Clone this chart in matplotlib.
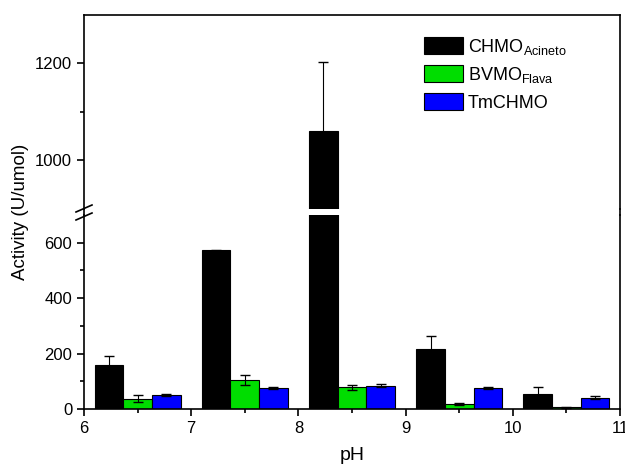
import numpy as np
import matplotlib
matplotlib.use('Agg')
import matplotlib.pyplot as plt
from matplotlib.lines import Line2D

plt.rcParams['font.family'] = ['Liberation Sans', 'DejaVu Sans']
plt.rcParams['mathtext.fontset'] = 'custom'
plt.rcParams['mathtext.rm'] = 'Liberation Sans'
plt.rcParams['mathtext.it'] = 'Liberation Sans'

# 数据
ph_groups = [6.5, 7.5, 8.5, 9.5, 10.5]
series_names = ['CHMO$_{\\mathrm{Acineto}}$', 'BVMO$_{\\mathrm{Flava}}$', 'TmCHMO']
chmo_acineto = [157, 573, 1060, 216, 53]
chmo_acineto_err = [34, 2, 143, 48, 27]
bvmo_flava = [37, 104, 78, 17, 6]
bvmo_flava_err = [12, 18, 9, 4, 2]
tmchmo = [50, 75, 84, 75, 41]
tmchmo_err = [3, 4, 5, 3, 5]
colors = ['#000000', '#00dd00', '#0000ff']

values = [chmo_acineto, bvmo_flava, tmchmo]
errors = [chmo_acineto_err, bvmo_flava_err, tmchmo_err]

W, H = 625, 468
fig = plt.figure(figsize=(W / 100, H / 100), dpi=100)

x0, x1 = 84 / W, 620 / W
low_b, low_t = (H - 409) / H, (H - 215) / H
up_b, up_t = (H - 209) / H, (H - 14.5) / H

ax_lo = fig.add_axes([x0, low_b, x1 - x0, low_t - low_b])
ax_up = fig.add_axes([x0, up_b, x1 - x0, up_t - up_b])

bw = 0.267
x = np.array(ph_groups)
for ax in (ax_lo, ax_up):
    for i, (vals, errs, c) in enumerate(zip(values, errors, colors)):
        ax.bar(x + (i - 1) * bw, vals, width=bw, color=c, edgecolor='black',
               linewidth=0.8, label=series_names[i], zorder=2)
        ax.errorbar(x + (i - 1) * bw, vals, yerr=errs, fmt='none', ecolor='black',
                    elinewidth=0.8, capsize=3.3, capthick=1.0, zorder=3)
    ax.set_xlim(6, 11)
    for s in ax.spines.values():
        s.set_linewidth(1.2)

ax_lo.set_ylim(0, 700)
ax_up.set_ylim(900, 1300)

ax_lo.spines['top'].set_visible(False)
ax_up.spines['bottom'].set_visible(False)

ax_lo.set_yticks([0, 200, 400, 600])
ax_lo.set_yticks([100, 300, 500], minor=True)
ax_up.set_yticks([1000, 1200])
ax_up.set_yticks([1100], minor=True)

ax_lo.set_xticks([6, 7, 8, 9, 10, 11])
ax_lo.set_xticklabels(['6', '7', '8', '9', '10', '11'])
ax_lo.set_xticks([6.5, 7.5, 8.5, 9.5, 10.5], minor=True)
ax_up.set_xticks([])
ax_up.set_xticks([], minor=True)

for ax in (ax_lo, ax_up):
    ax.tick_params(axis='both', which='major', direction='out', length=5, width=1.2,
                   labelsize=12, top=False, right=False)
    ax.tick_params(axis='both', which='minor', direction='out', length=3, width=1.2,
                   top=False, right=False)

# 断轴间隙中的左右轴线
fig.add_artist(Line2D([x0, x0], [low_t, up_b], color='black', lw=1.2))
fig.add_artist(Line2D([x1, x1], [low_t, up_b], color='black', lw=1.2))
# 断轴标记
ym = (low_t + up_b) / 2
for dy in (-4.5, 3.5):
    yy = ym + dy / H
    fig.add_artist(Line2D([x0 - 8 / W, x0 + 8 / W], [yy - 3.5 / H, yy + 3.5 / H],
                          color='black', lw=1.2))

fig.text(352 / W, 12 / H, 'pH', ha='center', va='center', fontsize=14)
fig.text(21 / W, (H - 212) / H, 'Activity (U/umol)', ha='center', va='center',
         rotation=90, fontsize=13.5)

ax_up.legend(loc='upper left', bbox_to_anchor=(0.634, 0.885), frameon=False,
             fontsize=13, handlelength=2.15, handleheight=1.05, labelspacing=0.45,
             handletextpad=0.3, borderaxespad=0, borderpad=0)

fig.savefig('out.png', dpi=100)
